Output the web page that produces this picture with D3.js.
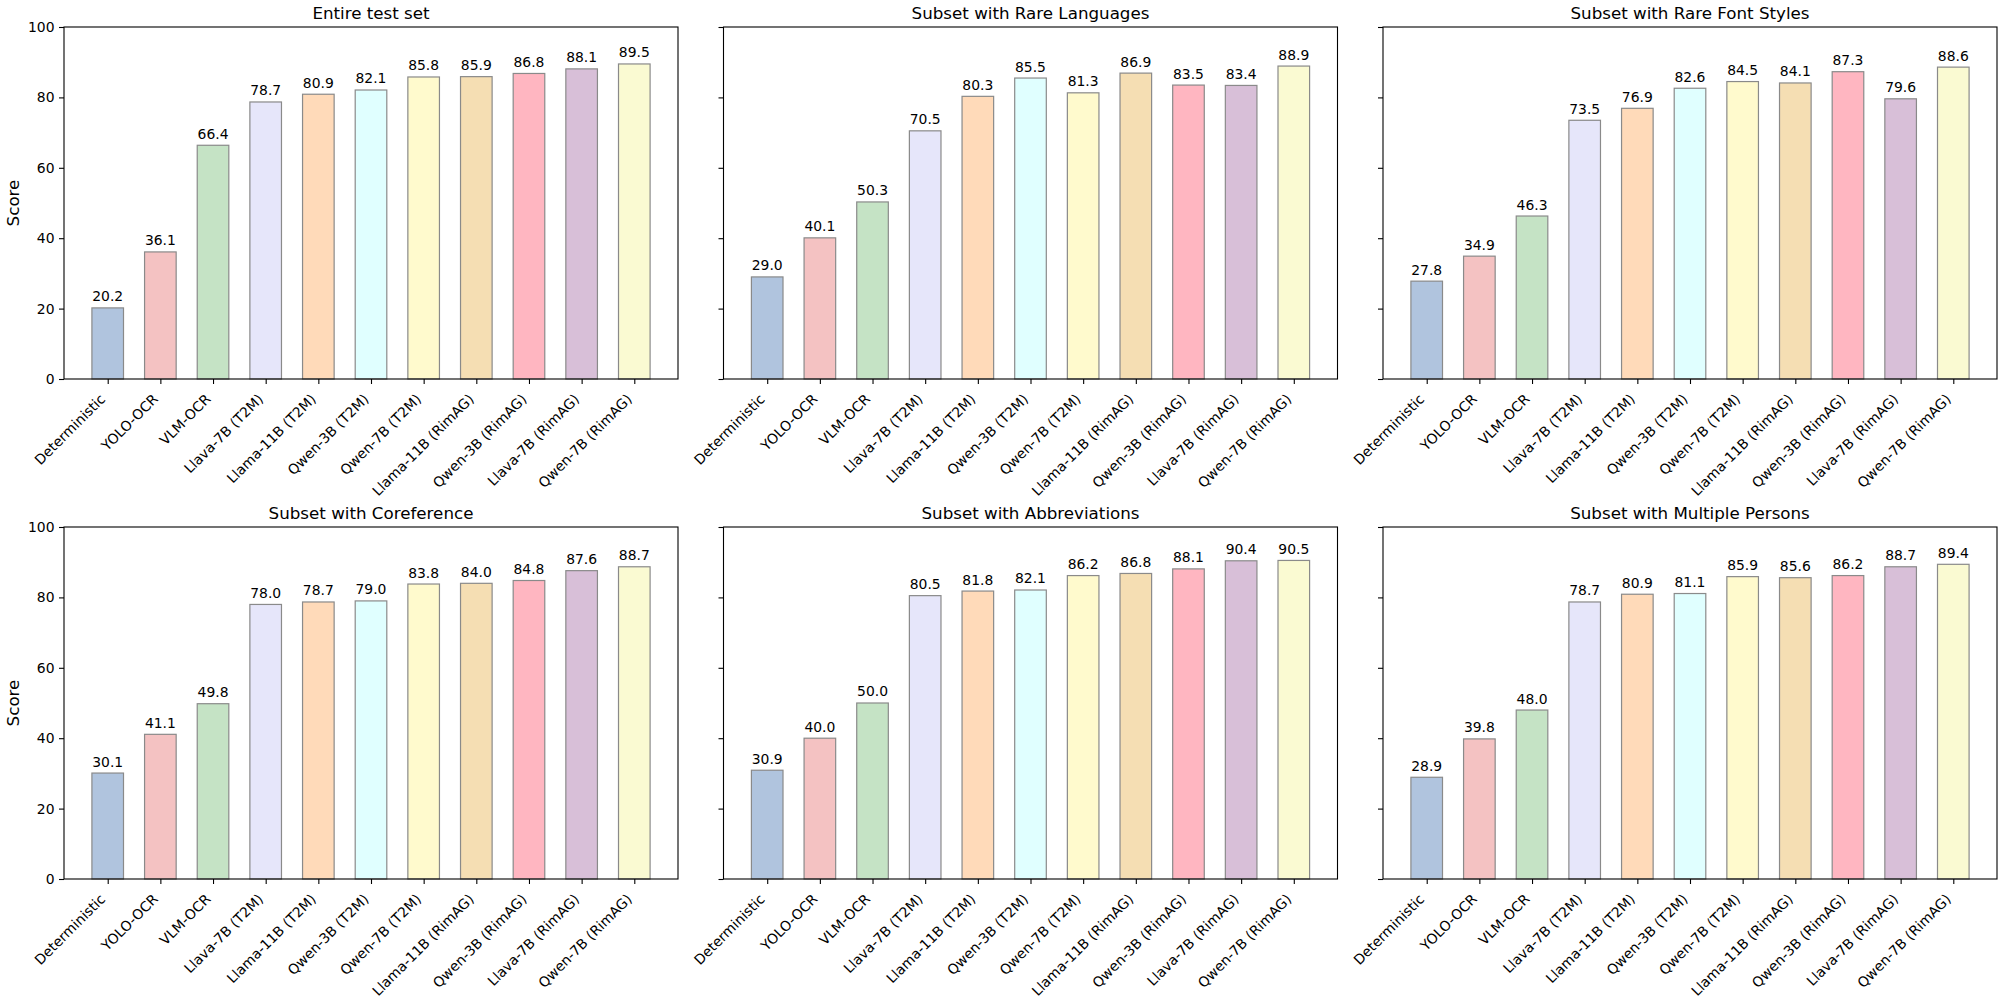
<!DOCTYPE html>
<html>
<head>
<meta charset="utf-8">
<script src="https://cdn.jsdelivr.net/npm/d3@7"></script>
<style>
  body { margin: 0; background: #fff; }
  svg { display: block; }
  text { font-family: "DejaVu Sans", sans-serif; fill: #000; }
</style>
</head>
<body>
<svg id="chart" width="2000" height="1000"></svg>
<script>
// data
const models = ["Deterministic", "YOLO-OCR", "VLM-OCR", "Llava-7B (T2M)", "Llama-11B (T2M)",
  "Qwen-3B (T2M)", "Qwen-7B (T2M)", "Llama-11B (RimAG)", "Qwen-3B (RimAG)",
  "Llava-7B (RimAG)", "Qwen-7B (RimAG)"];
const barColors = ["#B0C4DE", "#F4C2C2", "#C5E3C5", "#E6E6FA", "#FFDAB9", "#E0FFFF",
  "#FFFACD", "#F5DEB3", "#FFB6C1", "#D8BFD8", "#FAFAD2"];
const titles = ["Entire test set", "Subset with Rare Languages", "Subset with Rare Font Styles",
  "Subset with Coreference", "Subset with Abbreviations", "Subset with Multiple Persons"];
const entireSet = [20.2, 36.1, 66.4, 78.7, 80.9, 82.1, 85.8, 85.9, 86.8, 88.1, 89.5];
const rareLanguages = [29.0, 40.1, 50.3, 70.5, 80.3, 85.5, 81.3, 86.9, 83.5, 83.4, 88.9];
const rareFonts = [27.8, 34.9, 46.3, 73.5, 76.9, 82.6, 84.5, 84.1, 87.3, 79.6, 88.6];
const coreference = [30.1, 41.1, 49.8, 78.0, 78.7, 79.0, 83.8, 84.0, 84.8, 87.6, 88.7];
const abbreviations = [30.9, 40.0, 50.0, 80.5, 81.8, 82.1, 86.2, 86.8, 88.1, 90.4, 90.5];
const multiplePersons = [28.9, 39.8, 48.0, 78.7, 80.9, 81.1, 85.9, 85.6, 86.2, 88.7, 89.4];
const yTicks = [0, 20, 40, 60, 80, 100];

const panels = [entireSet, rareLanguages, rareFonts, coreference, abbreviations, multiplePersons];

// layout (pixels)
const colLeft = [64, 723.5, 1383];
const rowTop = [27, 527];
const pw = 614, ph = 352;
const barW = 0.6;

const svg = d3.select("#chart");

panels.forEach((vals, i) => {
  const col = i % 3, row = Math.floor(i / 3);
  const g = svg.append("g")
    .attr("transform", `translate(${colLeft[col]},${rowTop[row]})`);

  // matplotlib-like linear x with 5% margins around bars
  const lo = -barW / 2, hi = models.length - 1 + barW / 2;
  const pad = (hi - lo) * 0.05;
  const x = d3.scaleLinear().domain([lo - pad, hi + pad]).range([0, pw]);
  const y = d3.scaleLinear().domain([0, 100]).range([ph, 0]);

  // bars
  g.selectAll("rect.bar")
    .data(vals)
    .enter().append("rect")
    .attr("class", "bar")
    .attr("x", (d, j) => x(j - barW / 2))
    .attr("width", (d, j) => x(j + barW / 2) - x(j - barW / 2))
    .attr("y", d => y(d))
    .attr("height", d => y(0) - y(d))
    .attr("fill", (d, j) => barColors[j])
    .attr("stroke", "#8a8a8a")
    .attr("stroke-width", 1.2);

  // value labels
  g.selectAll("text.val")
    .data(vals)
    .enter().append("text")
    .attr("class", "val")
    .attr("x", (d, j) => x(j))
    .attr("y", d => y(d + 1) - 3)
    .attr("text-anchor", "middle")
    .style("font-size", "13.9px")
    .text(d => d.toFixed(1));

  // x axis
  const xAxis = g.append("g")
    .attr("transform", `translate(0,${ph})`)
    .call(d3.axisBottom(x)
      .tickValues(d3.range(models.length))
      .tickSize(5)
      .tickSizeOuter(0)
      .tickFormat(j => models[j]));
  xAxis.select(".domain").remove();
  xAxis.selectAll(".tick line").attr("stroke", "#000").attr("stroke-width", 1.1);
  xAxis.selectAll(".tick text")
    .attr("y", 0).attr("dy", null)
    .attr("text-anchor", "end")
    .attr("transform", "translate(-2,21) rotate(-45)")
    .style("font-size", "13.9px")
    .style("font-family", "DejaVu Sans, sans-serif");

  // y axis
  const yAxis = g.append("g")
    .call(d3.axisLeft(y)
      .tickValues(yTicks)
      .tickSize(5)
      .tickSizeOuter(0)
      .tickPadding(4.5)
      .tickFormat(col === 0 ? d3.format("d") : ""));
  yAxis.select(".domain").remove();
  yAxis.selectAll(".tick line").attr("stroke", "#000").attr("stroke-width", 1.1);
  yAxis.selectAll(".tick text")
    .style("font-size", "13.9px")
    .style("font-family", "DejaVu Sans, sans-serif");

  // frame
  g.append("rect")
    .attr("width", pw).attr("height", ph)
    .attr("fill", "none")
    .attr("stroke", "#000")
    .attr("stroke-width", 1.1);

  // title
  g.append("text")
    .attr("x", pw / 2).attr("y", -8)
    .attr("text-anchor", "middle")
    .style("font-size", "16.7px")
    .text(titles[i]);

  if (col === 0) {
    g.append("text")
      .attr("transform", `translate(${-45.5},${ph / 2}) rotate(-90)`)
      .attr("text-anchor", "middle")
      .style("font-size", "16.7px")
      .text("Score");
  }
});
</script>
</body>
</html>
